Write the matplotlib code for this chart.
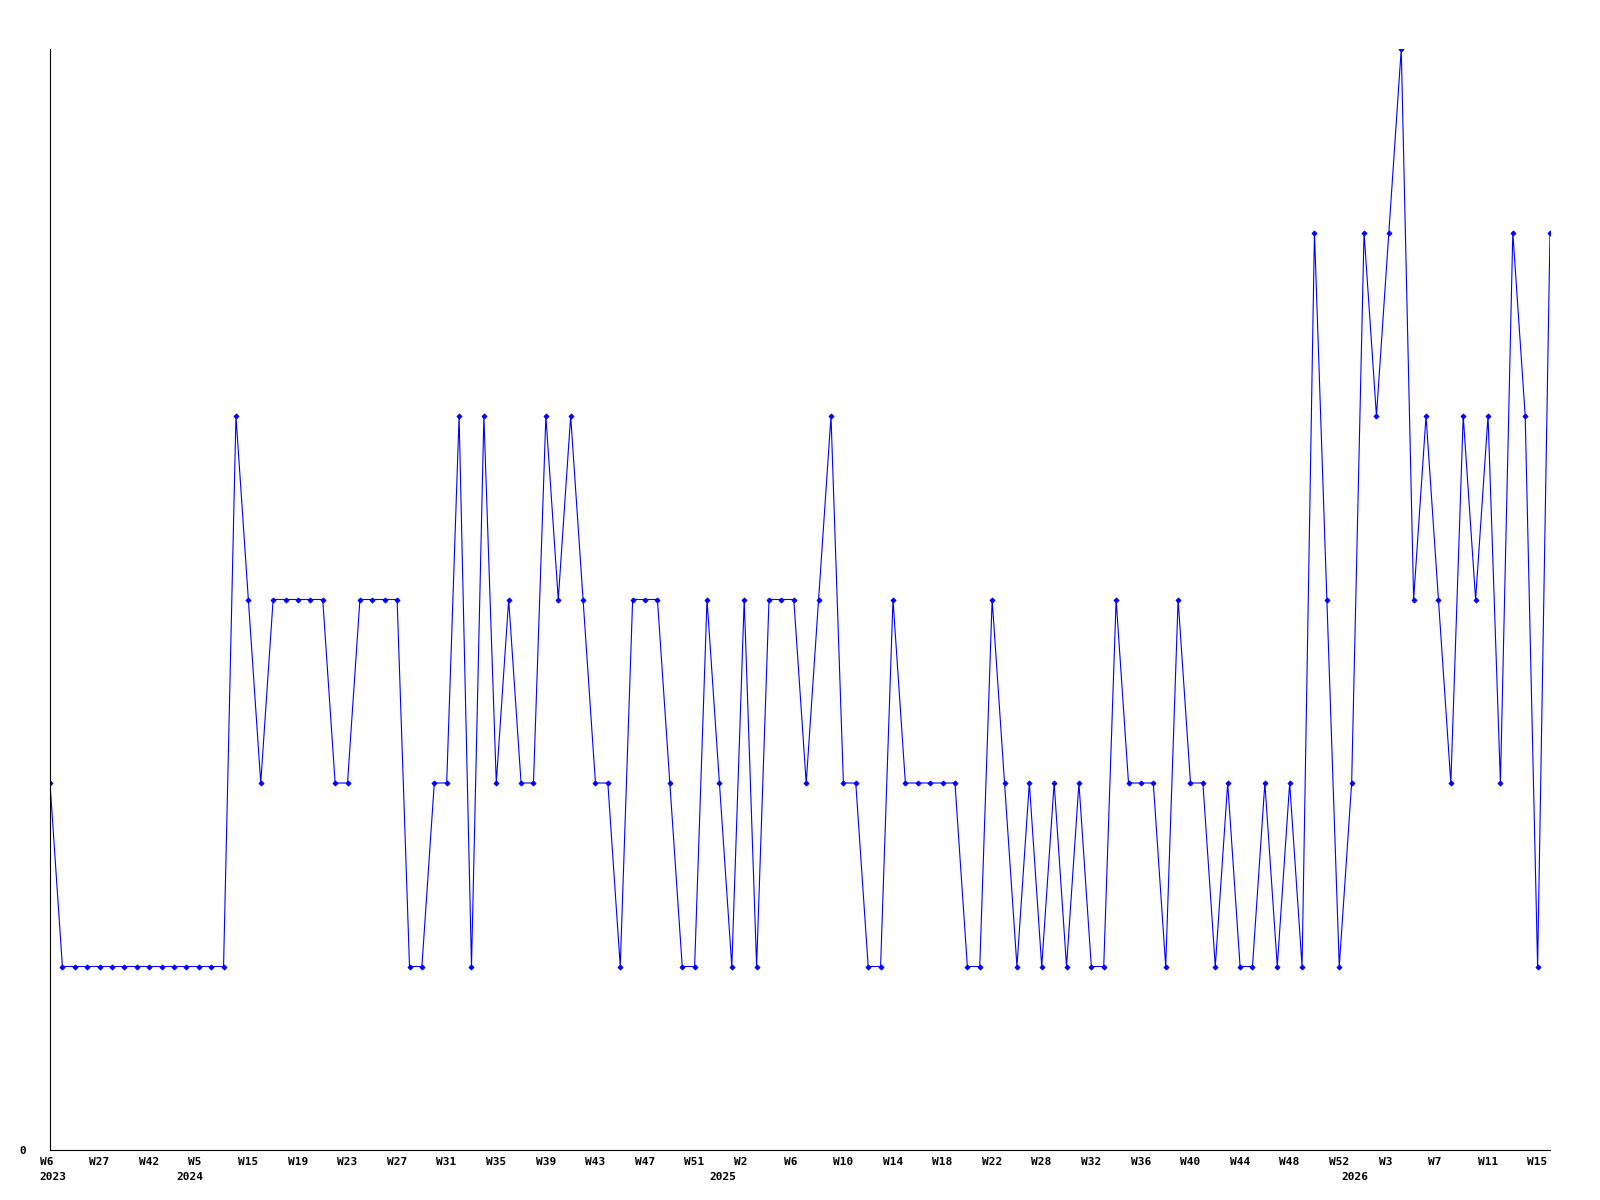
import matplotlib
matplotlib.use("Agg")
import matplotlib.pyplot as plt
from matplotlib.transforms import ScaledTranslation

# ---- data ----
values = [2, 1, 1, 1, 1, 1, 1, 1, 1, 1, 1, 1, 1, 1, 1,
          4, 3, 2, 3, 3, 3, 3, 3, 2, 2, 3, 3, 3, 3, 1, 1,
          2, 2, 4, 1, 4, 2, 3, 2, 2, 4, 3, 4, 3, 2, 2, 1,
          3, 3, 3, 2, 1, 1, 3, 2, 1, 3, 1, 3, 3, 3, 2, 3, 4,
          2, 2, 1, 1, 3, 2, 2, 2, 2, 2, 1, 1, 3, 2, 1, 2, 1,
          2, 1, 2, 1, 1, 3, 2, 2, 2, 1, 3, 2, 2, 1, 2, 1, 1,
          2, 1, 2, 1, 5, 3, 1, 2, 5, 4, 5, 6, 3, 4, 3, 2, 4,
          3, 4, 2, 5, 4, 1, 5]

# week labels shown on every 4th point
week_labels = ["W6", "W27", "W42", "W5", "W15", "W19", "W23", "W27", "W31", "W35",
               "W39", "W43", "W47", "W51", "W2", "W6", "W10", "W14", "W18", "W22",
               "W28", "W32", "W36", "W40", "W44", "W48", "W52", "W3", "W7", "W11", "W15"]
label_step = 4

# year labels and the index of the point where each year starts
year_labels = ["2023", "2024", "2025", "2026"]
year_start_index = [0, 11, 54, 105]

# ---- plot ----
fig = plt.figure(figsize=(16, 12), dpi=100)
ax = fig.add_axes([50 / 1600, 50 / 1200, 1500 / 1600, 1101 / 1200])

x = list(range(len(values)))
ax.plot(x, values, color=(0, 0, 1), linewidth=0.8, marker="D", markersize=2.6,
        markeredgewidth=0.6, markerfacecolor=(0, 0, 1), markeredgecolor=(0, 0, 1))

for s in ["top", "right"]:
    ax.spines[s].set_visible(False)
for s in ["left", "bottom"]:
    ax.spines[s].set_color("black")
    ax.spines[s].set_linewidth(0.8)

font = dict(family="DejaVu Sans Mono", weight="bold", size=8)

ax.set_xticks([])
shift = ScaledTranslation(-10.3 / 100, 0, fig.dpi_scale_trans)
xt = ax.get_xaxis_transform() + shift
week_pos = list(range(0, len(values), label_step))
for pos, lab in zip(week_pos, week_labels):
    ax.text(pos, -12.3 / 1101, lab, transform=xt, ha="left", va="center",
            clip_on=False, **font)
for pos, lab in zip(year_start_index, year_labels):
    ax.text(pos, -27.5 / 1101, lab, transform=xt, ha="left", va="center",
            clip_on=False, **font)

ax.set_yticks([0], ["0"], **font)
ax.tick_params(axis="y", length=0, pad=17)

ax.set_xlim(0, len(values) - 1)
ax.set_ylim(0, 6)

fig.savefig("out.png", dpi=100, facecolor="white")
